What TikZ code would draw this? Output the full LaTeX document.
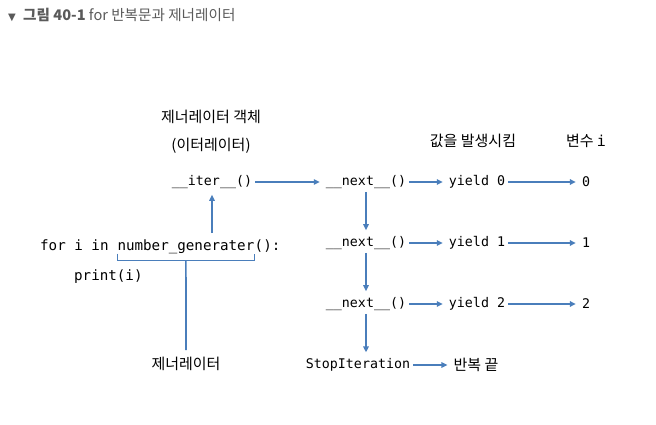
\documentclass[tikz,border=0pt]{standalone}
\usepackage{fontspec}
\setmainfont{Noto Sans CJK KR}
\setmonofont{DejaVu Sans Mono}
\newfontfamily\symfont{DejaVu Sans}
\usepackage{tikz}
\usetikzlibrary{arrows.meta, positioning, calc}
\definecolor{flowblue}{RGB}{74,126,187}
\definecolor{capgrey}{RGB}{90,90,90}

\begin{document}
\begin{tikzpicture}[x=1pt, y=-1pt, inner sep=3pt,
    code/.style={font=\ttfamily\fontsize{13.3}{16}\selectfont},
    forcode/.style={font=\ttfamily\fontsize{14.2}{17}\selectfont, inner sep=0pt},
    kor/.style={font=\fontsize{15}{18}\selectfont},
    arr/.style={-{Triangle[length=6pt, width=5.5pt]}, line width=1.6pt, flowblue, shorten >=3pt},
    ln/.style={line width=1.6pt, flowblue}]
    \useasboundingbox (0,0) rectangle (656,425);
    \node[anchor=west, text=capgrey, font=\fontsize{14.6}{17}\selectfont, inner sep=0pt] (cap) at (8,15)
        {{\symfont\fontsize{10}{11}\selectfont ▼}\enspace\textbf{그림 40-1} for 반복문과 제너레이터};
    % labels
    \node[kor] (objlbl) at (211,117) {제너레이터 객체};
    \node[kor] (itlbl) at (211,146) {(이터레이터)};
    \node[kor] (vallbl) at (473,141) {값을 발생시킴};
    \node[kor] (varlbl) at (586,141) {변수 {\ttfamily i}};
    % iterator calls
    \node[code] (iter) at (212,182) {\_\_iter\_\_()};
    \foreach \k/\y in {0/182, 1/243, 2/304} {
        \node[code] (next\k) at (366,\y) {\_\_next\_\_()};
        \node[code] (yield\k) at (477,\y) {yield \k};
        \node[code] (val\k) at (586,\y) {\k};
        \draw[arr] (next\k) -- (yield\k);
        \draw[arr] (yield\k) -- (val\k);
    }
    \node[code] (stop) at (358,365) {StopIteration};
    \node[kor] (endlbl) at (476,365) {반복 끝};
    \draw[arr] (iter) -- (next0);
    \draw[arr] (next0) -- (next1);
    \draw[arr] (next1) -- (next2);
    \draw[arr] (next2) -- (next2 |- stop.north);
    \draw[arr] (stop) -- (endlbl);
    % for loop
    \node[forcode, anchor=base west] (forkw) at (40,250) {for i in};
    \node[forcode, base right=8.55pt of forkw] (gen) {number\_generater};
    \node[forcode, base right=0pt of gen] (paren) {():};
    \node[forcode, anchor=base west] (prt) at (74,280) {print(i)};
    \node[kor] (genlbl) at (186,364) {제너레이터};
    \draw[ln] (gen.south west) -- ++(0,-7pt) -| (gen.south east);
    \draw[ln] ([yshift=-7pt]gen.south) -- ([yshift=4pt]genlbl.north);
    \draw[arr] ($(iter |- gen.north)+(0,-6)$) -- (iter.south);
\end{tikzpicture}
\end{document}
